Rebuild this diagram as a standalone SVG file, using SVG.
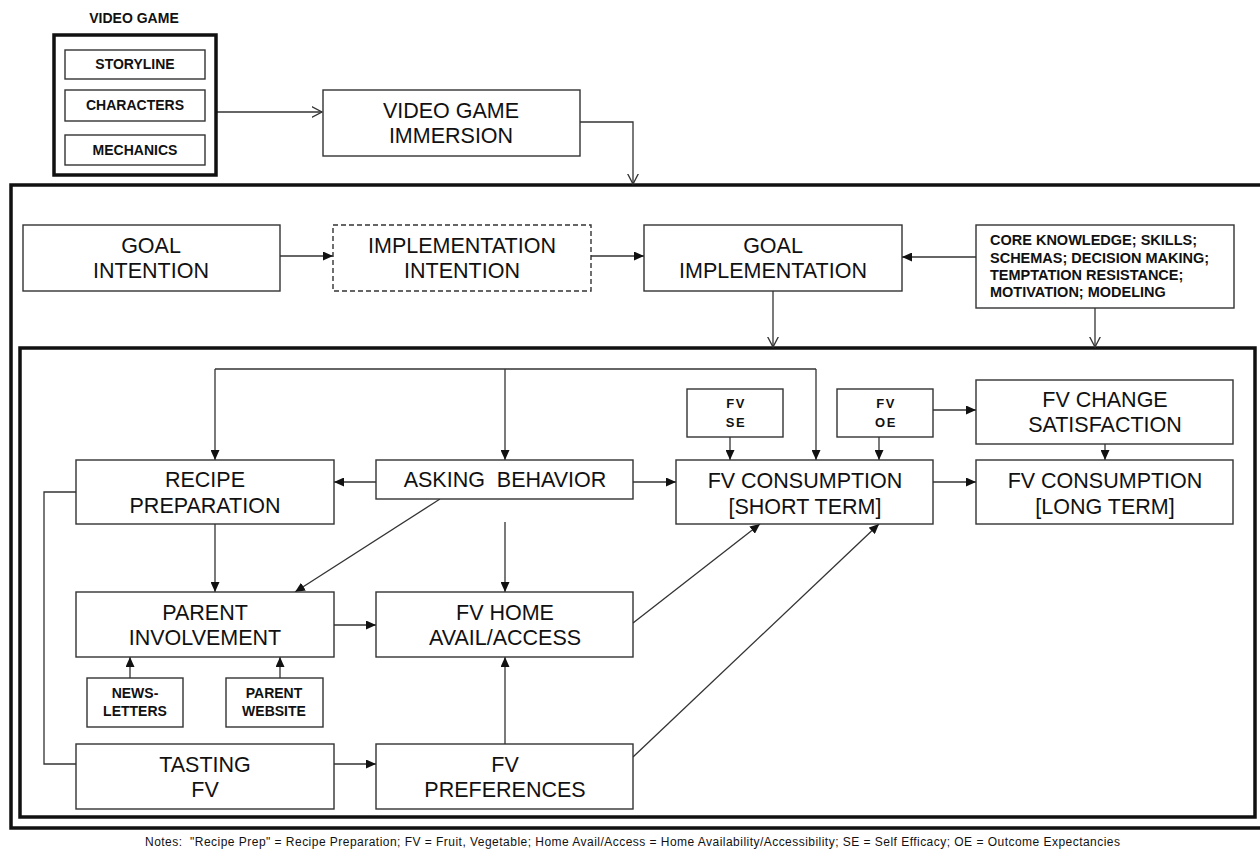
<svg xmlns="http://www.w3.org/2000/svg" width="1260" height="850" viewBox="0 0 1260 850">
<defs>
<style>
.box{fill:#fff;stroke:#333;stroke-width:1.4}
.dash{fill:#fff;stroke:#333;stroke-width:1.4;stroke-dasharray:5,3}
.thick{fill:none;stroke:#111;stroke-width:3.5}
.lbl{font-family:"Liberation Sans",Arial,sans-serif;font-size:21.5px;fill:#111;text-anchor:middle}
.sm{font-family:"Liberation Sans",Arial,sans-serif;font-size:14px;font-weight:bold;fill:#111;text-anchor:middle}
.xs{font-family:"Liberation Sans",Arial,sans-serif;font-size:13px;font-weight:bold;fill:#111;text-anchor:middle;letter-spacing:1.5px}
.core{font-family:"Liberation Sans",Arial,sans-serif;font-size:14.5px;font-weight:bold;fill:#111}
.note{font-family:"Liberation Sans",Arial,sans-serif;font-size:12px;fill:#111}
.c{fill:none;stroke:#333;stroke-width:1.3}
.fa{marker-end:url(#fill)}
.oa{marker-end:url(#open)}
</style>
<marker id="fill" markerUnits="userSpaceOnUse" markerWidth="11" markerHeight="9" refX="10" refY="4.5" orient="auto">
<path d="M0,0 L10,4.5 L0,9 z" fill="#111"/>
</marker>
<marker id="open" markerUnits="userSpaceOnUse" markerWidth="12" markerHeight="12" refX="10.5" refY="6" orient="auto">
<path d="M0,0.5 L10.5,6 L0,11.5" fill="none" stroke="#333" stroke-width="1.3"/>
</marker>
</defs>
<rect width="1260" height="850" fill="#fff"/>

<!-- containers -->
<g id="outer-frame"><rect class="thick" x="11" y="185" width="1260" height="643"/></g>
<g id="inner-frame"><rect class="thick" x="20" y="348" width="1235" height="469"/></g>

<!-- connectors -->
<g id="connectors">
<path class="c oa" d="M216,112 L322,112"/>
<path class="c oa" d="M580,122 L633,122 L633,184"/>
<path class="c fa" d="M280,256 L333,256"/>
<path class="c fa" d="M591,256 L644,256"/>
<path class="c fa" d="M976,257 L902,257"/>
<path class="c oa" d="M773,291 L773,347"/>
<path class="c oa" d="M1095,308 L1095,347"/>
<path class="c fa" d="M816,369 L816,460"/>
<path class="c" d="M215,369 L816,369"/>
<path class="c fa" d="M215,369 L215,460"/>
<path class="c fa" d="M505,369 L505,460"/>
<path class="c fa" d="M376,482 L334,482"/>
<path class="c fa" d="M633,482 L676,482"/>
<path class="c fa" d="M933,482 L976,482"/>
<path class="c fa" d="M730,437 L730,460"/>
<path class="c fa" d="M879,437 L879,460"/>
<path class="c fa" d="M933,410 L976,410"/>
<path class="c fa" d="M1105,444 L1105,460"/>
<path class="c" d="M76,492 L44,492 L44,764 L76,764"/>
<path class="c fa" d="M215,524 L215,592"/>
<path class="c fa" d="M440,499 L295,592"/>
<path class="c fa" d="M505,522 L505,592"/>
<path class="c fa" d="M334,625 L376,625"/>
<path class="c fa" d="M633,623 L760,524"/>
<path class="c fa" d="M633,757 L879,524"/>
<path class="c fa" d="M130,678 L130,657"/>
<path class="c fa" d="M280,678 L280,657"/>
<path class="c fa" d="M334,764 L376,764"/>
<path class="c fa" d="M505,744 L505,657"/>
</g>

<!-- video game -->
<g id="video-game">
<text class="sm" x="134" y="23">VIDEO GAME</text>
<rect x="54" y="35" width="162" height="140" fill="none" stroke="#111" stroke-width="3.5"/>
</g>
<g id="storyline"><rect class="box" x="65" y="50" width="140" height="29"/><text class="sm" x="135" y="69">STORYLINE</text></g>
<g id="characters"><rect class="box" x="65" y="90" width="140" height="31"/><text class="sm" x="135" y="110">CHARACTERS</text></g>
<g id="mechanics"><rect class="box" x="65" y="135" width="140" height="30"/><text class="sm" x="135" y="155">MECHANICS</text></g>

<g id="vg-immersion"><rect class="box" x="323" y="90" width="257" height="66"/><text class="lbl" x="451" y="118">VIDEO GAME</text><text class="lbl" x="451" y="143">IMMERSION</text></g>

<g id="goal-intention"><rect class="box" x="23" y="225" width="257" height="66"/><text class="lbl" x="151" y="253">GOAL</text><text class="lbl" x="151" y="278">INTENTION</text></g>
<g id="implementation-intention"><rect class="dash" x="333" y="225" width="258" height="66"/><text class="lbl" x="462" y="253">IMPLEMENTATION</text><text class="lbl" x="462" y="278">INTENTION</text></g>
<g id="goal-implementation"><rect class="box" x="644" y="225" width="258" height="66"/><text class="lbl" x="773" y="253">GOAL</text><text class="lbl" x="773" y="278">IMPLEMENTATION</text></g>
<g id="core-knowledge"><rect class="box" x="976" y="225" width="258" height="83"/>
<text class="core" x="990" y="245">CORE KNOWLEDGE; SKILLS;</text>
<text class="core" x="990" y="263">SCHEMAS; DECISION MAKING;</text>
<text class="core" x="990" y="280">TEMPTATION RESISTANCE;</text>
<text class="core" x="990" y="297">MOTIVATION; MODELING</text></g>

<g id="recipe-preparation"><rect class="box" x="76" y="460" width="258" height="64"/><text class="lbl" x="205" y="487">RECIPE</text><text class="lbl" x="205" y="513">PREPARATION</text></g>
<g id="asking-behavior"><rect class="box" x="376" y="460" width="257" height="39"/><text class="lbl" x="505" y="487" xml:space="preserve">ASKING  BEHAVIOR</text></g>
<g id="fv-se"><rect class="box" x="687" y="389" width="96" height="48"/><text class="xs" x="736" y="408">FV</text><text class="xs" x="736" y="427">SE</text></g>
<g id="fv-oe"><rect class="box" x="837" y="389" width="96" height="48"/><text class="xs" x="886" y="408">FV</text><text class="xs" x="886" y="427">OE</text></g>
<g id="fv-change-satisfaction"><rect class="box" x="976" y="380" width="257" height="64"/><text class="lbl" x="1105" y="407">FV CHANGE</text><text class="lbl" x="1105" y="432">SATISFACTION</text></g>
<g id="fv-consumption-short"><rect class="box" x="676" y="460" width="257" height="64"/><text class="lbl" x="805" y="488">FV CONSUMPTION</text><text class="lbl" x="805" y="514">[SHORT TERM]</text></g>
<g id="fv-consumption-long"><rect class="box" x="976" y="460" width="257" height="64"/><text class="lbl" x="1105" y="488">FV CONSUMPTION</text><text class="lbl" x="1105" y="514">[LONG TERM]</text></g>
<g id="parent-involvement"><rect class="box" x="76" y="592" width="258" height="65"/><text class="lbl" x="205" y="620">PARENT</text><text class="lbl" x="205" y="645">INVOLVEMENT</text></g>
<g id="fv-home"><rect class="box" x="376" y="592" width="257" height="65"/><text class="lbl" x="505" y="620">FV HOME</text><text class="lbl" x="505" y="645">AVAIL/ACCESS</text></g>
<g id="newsletters"><rect class="box" x="87" y="678" width="96" height="49"/><text class="sm" x="135" y="698">NEWS-</text><text class="sm" x="135" y="716">LETTERS</text></g>
<g id="parent-website"><rect class="box" x="226" y="678" width="97" height="49"/><text class="sm" x="274" y="698">PARENT</text><text class="sm" x="274" y="716">WEBSITE</text></g>
<g id="tasting-fv"><rect class="box" x="76" y="744" width="258" height="65"/><text class="lbl" x="205" y="772">TASTING</text><text class="lbl" x="205" y="797">FV</text></g>
<g id="fv-preferences"><rect class="box" x="376" y="744" width="257" height="65"/><text class="lbl" x="505" y="772">FV</text><text class="lbl" x="505" y="797">PREFERENCES</text></g>

<text class="note" x="145" y="846" textLength="975" lengthAdjust="spacing" xml:space="preserve">Notes:  "Recipe Prep" = Recipe Preparation; FV = Fruit, Vegetable; Home Avail/Access = Home Availability/Accessibility; SE = Self Efficacy; OE = Outcome Expectancies</text>
</svg>
